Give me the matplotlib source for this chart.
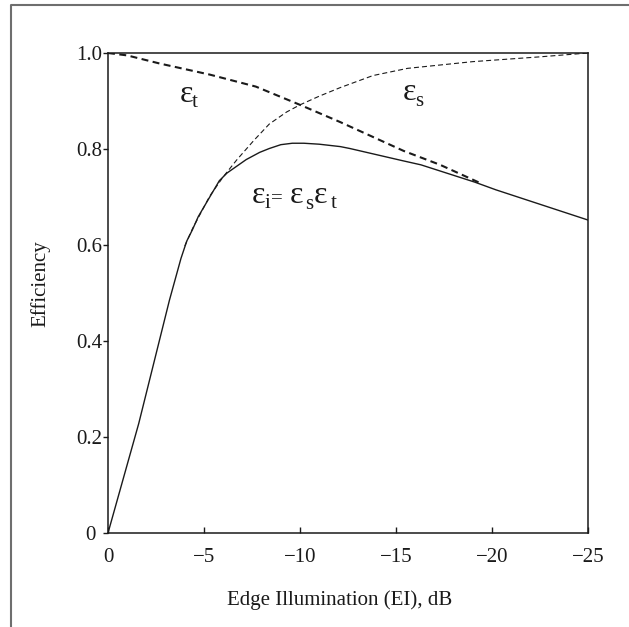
import matplotlib
matplotlib.use('Agg')
import matplotlib.pyplot as plt
from matplotlib.lines import Line2D

# ---------------- data ----------------
x_ticks = [0, -5, -10, -15, -20, -25]
x_tick_labels = ['0', '\u22125', '\u221210', '\u221215', '\u221220', '\u221225']
y_ticks = [0.0, 0.2, 0.4, 0.6, 0.8, 1.0]
y_tick_labels = ['0 ', '0.2', '0.4', '0.6', '0.8', '1.0']

# aperture efficiency  eps_i = eps_s * eps_t  (solid)
ei_x = [0, -1.6, -3.2, -3.8, -4.1, -4.4, -4.7, -5.3, -5.8, -6.2, -6.7, -7.2,
        -7.9, -8.4, -9.0, -9.6, -10.2, -11.0, -12.1, -12.6, -15.3, -16.3,
        -19.1, -20.2, -25]
ei_y = [0.0, 0.228, 0.485, 0.572, 0.608, 0.632, 0.659, 0.700, 0.734, 0.750,
        0.764, 0.778, 0.793, 0.801, 0.809, 0.812, 0.812, 0.810, 0.805, 0.801,
        0.776, 0.767, 0.731, 0.715, 0.652]

# spillover efficiency eps_s (thin dashed)
es_x = [-4.0, -4.4, -5.3, -6.0, -6.7, -7.6, -8.4, -9.3, -10.0, -11.0, -12.1,
        -13.8, -15.6, -19.0, -22.5, -25]
es_y = [0.598, 0.634, 0.702, 0.742, 0.777, 0.818, 0.852, 0.877, 0.892, 0.910,
        0.928, 0.953, 0.968, 0.982, 0.992, 1.0]

# taper efficiency eps_t (thick dashed)
et_x = [0, -1.0, -2.7, -5.3, -7.7, -10.0, -12.1, -15.4, -17.3, -19.5]
et_y = [1.0, 0.995, 0.978, 0.955, 0.930, 0.892, 0.856, 0.796, 0.767, 0.727]

x_label = 'Edge Illumination (EI), dB'
y_label = 'Efficiency'

# ---------------- figure ----------------
plt.rcParams['font.family'] = ['Liberation Serif', 'DejaVu Serif']
plt.rcParams['lines.scale_dashes'] = False

W, H = 629, 627
fig = plt.figure(figsize=(W / 100, H / 100), dpi=100)
fig.patch.set_facecolor('white')
ax = fig.add_axes([108 / W, 94 / H, 480 / W, 480 / H])

ink = '#1a1a1a'
ax.plot(ei_x, ei_y, color=ink, lw=1.0, solid_joinstyle='round')
ax.plot(es_x, es_y, color=ink, lw=0.8, dashes=(3.6, 2.2))
ax.plot(et_x, et_y, color=ink, lw=1.5, dashes=(5.0, 3.2))

ax.set_xlim(0, -25)
ax.set_ylim(0, 1.0)
ax.set_xticks(x_ticks)
ax.set_xticklabels(x_tick_labels)
ax.set_yticks(y_ticks)
ax.set_yticklabels(y_tick_labels)

for sp in ax.spines.values():
    sp.set_linewidth(1.1)
    sp.set_color(ink)

ax.tick_params(axis='x', direction='in', length=4.3, width=1.0, pad=11,
               labelsize=15, colors=ink)
ax.tick_params(axis='y', direction='out', length=3.6, width=1.0, pad=0.8,
               labelsize=15, colors=ink)

ax.set_xlabel(x_label, fontsize=15, color=ink)
ax.set_ylabel(y_label, fontsize=15, color=ink)
ax.xaxis.set_label_coords(0.482, -0.119)
ax.yaxis.set_label_coords(-0.12, 0.52)


def put_label(x, y, pieces):
    for txt, dx, dy, size in pieces:
        ax.annotate(txt, xy=(x, y), xycoords='data', xytext=(dx, dy),
                    textcoords='offset pixels', fontsize=size, ha='left',
                    va='baseline', color=ink)


put_label(-3.75, 0.898, [('\u03b5', 0, 0, 23), ('t', 12, -5, 15)])
put_label(-15.36, 0.902, [('\u03b5', 0, 0, 23), ('s', 12, -6, 15)])
put_label(-7.5, 0.6875, [('\u03b5', 0, 0, 23), ('i', 13, -5, 15),
                          ('=', 19, 0, 15), ('\u03b5', 38, 0, 23),
                          ('s', 53, -6, 15), ('\u03b5', 62, 0, 23),
                          ('t', 79, -5, 15)])

# frame lines of the original scan (top and left)
fig.add_artist(Line2D([11 / W, 11 / W, 1.0], [0.0, 1 - 5 / H, 1 - 5 / H],
                      transform=fig.transFigure, color='#6e6e6e', lw=1.5))

fig.savefig('out.png', dpi=100, facecolor='white')
